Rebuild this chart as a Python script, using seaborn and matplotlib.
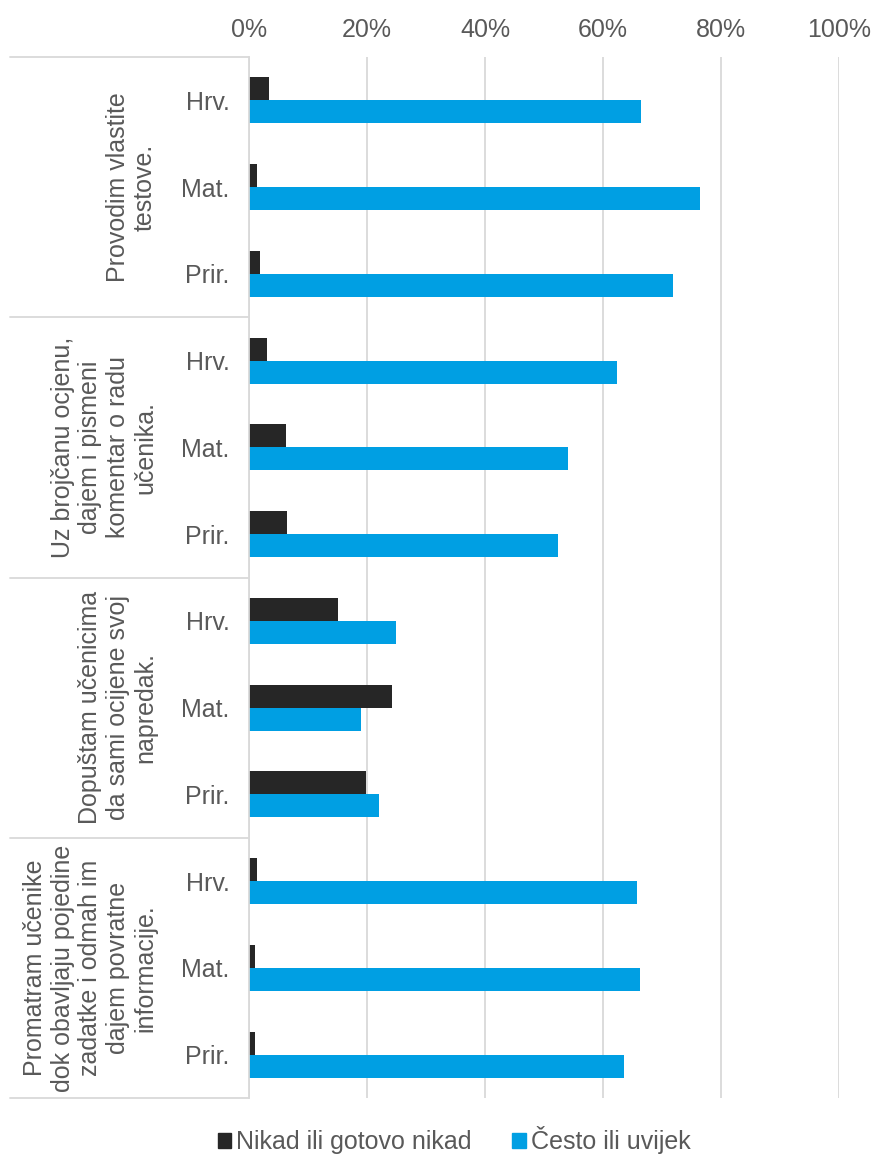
import numpy as np
import pandas as pd
import matplotlib.pyplot as plt
import matplotlib.transforms as mtransforms
from matplotlib.patches import Patch
import seaborn as sns

subjects = ["Hrv.", "Mat.", "Prir."]
groups = ["Provodim vlastite\ntestove.",
          "Uz brojčanu ocjenu,\ndajem i pismeni\nkomentar o radu\nučenika.",
          "Dopuštam učenicima\nda sami ocijene svoj\nnapredak.",
          "Promatram učenike\ndok obavljaju pojedine\nzadatke i odmah im\ndajem povratne\ninformacije."]
series = ["Nikad ili gotovo nikad", "Često ili uvijek"]
nikad = [3.4, 1.4, 1.9, 3.1, 6.2, 6.5, 15.0, 24.2, 19.8, 1.4, 1.1, 1.1]
cesto = [66.5, 76.5, 71.9, 62.3, 54.1, 52.3, 24.9, 19.0, 22.1, 65.8, 66.3, 63.5]
colors = ["#262626", "#009FE3"]

rows = []
for i in range(len(nikad)):
    key = str(i // 3) + "-" + subjects[i % 3]
    rows.append([key, series[0], nikad[i]])
    rows.append([key, series[1], cesto[i]])
df = pd.DataFrame(rows, columns=["row", "series", "value"])

sns.set_style("white")
plt.rcParams["font.family"] = ["Liberation Sans", "DejaVu Sans"]
txt = "#595959"
grid = "#D9D9D9"

fig = plt.figure(figsize=(8.73, 11.59), dpi=100)
ax = fig.add_axes([249/873, 1-1098/1159, 590/873, 1041/1159])
sns.barplot(data=df, y="row", x="value", hue="series", orient="h",
            palette=colors, saturation=1, width=0.53, linewidth=0,
            legend=False, ax=ax)

ax.set_xlim(0, 100)
ax.set_ylim(11.5, -0.5)
ax.set_xticks(np.arange(0, 101, 20))
ax.set_xticklabels([f"{v}%" for v in range(0, 101, 20)])
ax.xaxis.tick_top()
ax.set_yticks(range(12))
ax.set_yticklabels([subjects[i % 3] for i in range(12)])
ax.tick_params(axis="both", length=0, labelsize=18, colors=txt)
ax.tick_params(axis="y", pad=14)
ax.tick_params(axis="x", pad=11)
ax.set_xlabel("")
ax.set_ylabel("")
ax.grid(axis="x", color=grid, linewidth=1.3)
ax.set_axisbelow(True)
for s in ["top", "right", "bottom"]:
    ax.spines[s].set_visible(False)
ax.spines["left"].set_color(grid)
ax.spines["left"].set_linewidth(1.3)

trans = mtransforms.blended_transform_factory(ax.transAxes, ax.transData)
x0 = (10 - 249) / 590
for b in [-0.5, 2.5, 5.5, 8.5, 11.5]:
    ax.plot([x0, 0], [b, b], color=grid, linewidth=1.3, transform=trans, clip_on=False)
for g, label in enumerate(groups):
    ax.text((157 - 249) / 590, g * 3 + 1, label, transform=trans, rotation=90,
            ha="right", va="center", multialignment="center",
            fontsize=18, color=txt, linespacing=1.18)

handles = [Patch(color=c) for c in colors]
fig.legend(handles, series, loc="center", bbox_to_anchor=(454/873, 1-1140/1159),
           ncol=2, frameon=False, fontsize=18, labelcolor=txt,
           handlelength=0.55, handleheight=0.55, handletextpad=0.2, columnspacing=1.6)

fig.savefig("out.png", dpi=100)
